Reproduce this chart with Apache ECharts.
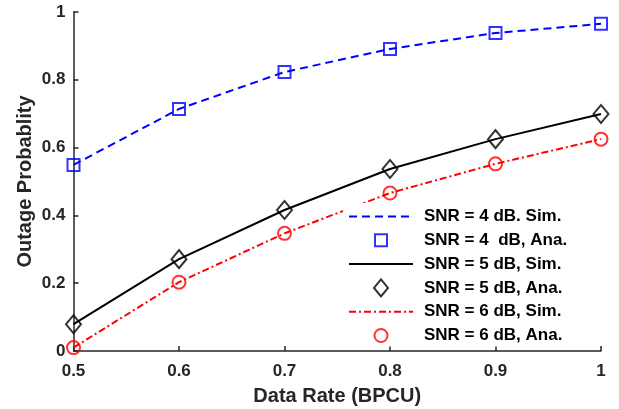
<!DOCTYPE html>
<html>
<head>
    <meta charset="utf-8">
    <title>Outage Probability</title>
    <script src="https://cdn.jsdelivr.net/npm/echarts@6/dist/echarts.min.js"></script>
</head>
<body style="margin:0;background:#fff;">
    <div id="main" style="width: 619px;height:409px;"></div>
    <script type="text/javascript">
        var rates = [0.5, 0.6, 0.7, 0.8, 0.9, 1.0];
        var snr4 = [0.549, 0.714, 0.823, 0.891, 0.938, 0.965];
        var snr5 = [0.079, 0.271, 0.416, 0.537, 0.625, 0.699];
        var snr6 = [0.010, 0.203, 0.347, 0.466, 0.552, 0.625];
        var names = [
            'SNR = 4 dB. Sim.', 'SNR = 4  dB, Ana.',
            'SNR = 5 dB, Sim.', 'SNR = 5 dB, Ana.',
            'SNR = 6 dB, Sim.', 'SNR = 6 dB, Ana.'
        ];

        function pairs(vals) {
            return rates.map(function (r, i) { return [r, vals[i]]; });
        }

        var myChart = echarts.init(document.getElementById('main'));
        var font = 'Liberation Sans, Arial, sans-serif';
        var axisColor = '#262626';

        // legend marker shapes, padded to an 18x18 box so they keep their size
        var iconSquare = 'path://M0,0M3,3L15,3L15,15L3,15ZM18,18';
        var iconDiamond = 'path://M0,0M9,0.5L16,9L9,17.5L2,9ZM18,18';
        var iconCircle = 'path://M0,0M2.5,9A6.5,6.5,0,1,1,15.5,9A6.5,6.5,0,1,1,2.5,9ZM18,18';

        function simLine(name, vals, color, type) {
            return {
                name: name, type: 'line', data: pairs(vals),
                symbol: 'none', showSymbol: false, z: 2,
                lineStyle: { color: color, width: 2, type: type },
                itemStyle: { color: color }
            };
        }
        function anaPoints(name, vals, color, symbol, size) {
            return {
                name: name, type: 'scatter', data: pairs(vals),
                symbol: symbol, symbolSize: size, z: 3,
                itemStyle: { color: 'rgba(255,255,255,0)', borderColor: color, borderWidth: 2 }
            };
        }

        var option = {
            backgroundColor: '#fff',
            animation: false,
            grid: { left: 73.5, right: 18, top: 12, bottom: 58, outerBoundsMode: 'none' },
            legend: {
                orient: 'vertical',
                left: 343,
                top: 203,
                padding: [5, 5, 1, 5],
                backgroundColor: '#fff',
                itemWidth: 64,
                itemHeight: 18,
                itemGap: 5.3,
                selectedMode: false,
                textStyle: { fontFamily: font, fontWeight: 'bold', fontSize: 17, color: '#000', lineHeight: 17, padding: [0, 0, 0, 6] },
                data: [
                    { name: names[0], itemStyle: { opacity: 0 } },
                    { name: names[1], icon: iconSquare },
                    { name: names[2], itemStyle: { opacity: 0 } },
                    { name: names[3], icon: iconDiamond },
                    { name: names[4], itemStyle: { opacity: 0 } },
                    { name: names[5], icon: iconCircle }
                ]
            },
            xAxis: {
                type: 'value', min: 0.5, max: 1, interval: 0.1,
                name: 'Data Rate (BPCU)', nameLocation: 'middle', nameGap: 35,
                nameMoveOverlap: false,
                nameTextStyle: { fontFamily: font, fontWeight: 'bold', fontSize: 20, color: axisColor },
                axisLine: { lineStyle: { color: axisColor, width: 1.5 } },
                axisTick: { inside: true, length: 5, lineStyle: { color: axisColor, width: 1.5 } },
                axisLabel: { fontFamily: font, fontWeight: 'bold', fontSize: 17, color: axisColor, margin: 12 },
                splitLine: { show: false }
            },
            yAxis: {
                type: 'value', min: 0, max: 1, interval: 0.2,
                name: 'Outage Probablity', nameLocation: 'middle', nameGap: 38,
                nameMoveOverlap: false,
                nameTextStyle: { fontFamily: font, fontWeight: 'bold', fontSize: 20, color: axisColor },
                axisLine: { show: true, lineStyle: { color: axisColor, width: 1.5 } },
                axisTick: { show: true, inside: true, length: 5, lineStyle: { color: axisColor, width: 1.5 } },
                axisLabel: { fontFamily: font, fontWeight: 'bold', fontSize: 17, color: axisColor, margin: 8 },
                splitLine: { show: false }
            },
            series: [
                simLine(names[0], snr4, '#0000ff', [8, 5]),
                anaPoints(names[1], snr4, '#0000ff', 'rect', 12),
                simLine(names[2], snr5, '#000000', 'solid'),
                anaPoints(names[3], snr5, '#000000', 'diamond', [15, 18]),
                simLine(names[4], snr6, '#ff0000', [7, 3, 2, 3]),
                anaPoints(names[5], snr6, '#ff0000', 'circle', 13)
            ]
        };
        myChart.setOption(option);
    </script>
</body>
</html>
